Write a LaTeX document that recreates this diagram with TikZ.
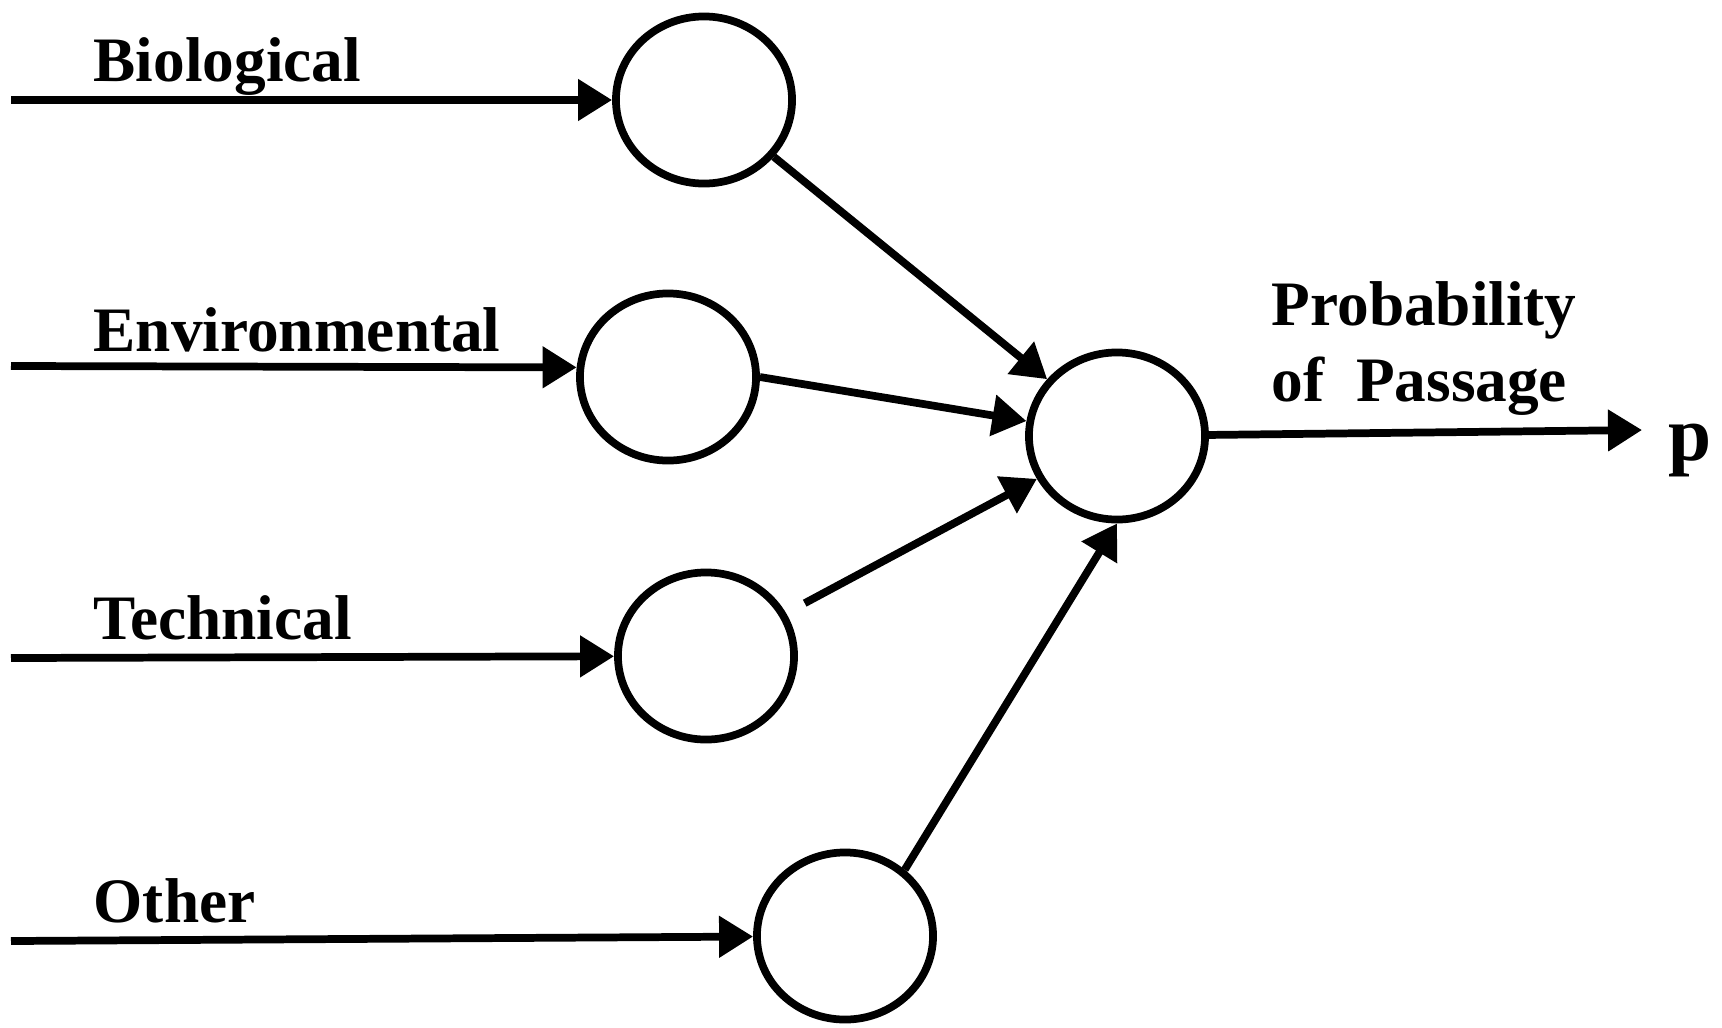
\documentclass[tikz,border=0pt]{standalone}
\usepackage{fontspec}
\setmainfont{Liberation Serif}
\usepackage{tikz}
\usetikzlibrary{shapes.geometric, arrows.meta, positioning}

\begin{document}
\begin{tikzpicture}[
    x=0.01cm, y=-0.01cm,
    unit/.style={ellipse, draw, line width=2.2pt, minimum width=1.76cm, minimum height=1.67cm, inner sep=0pt},
    arrow/.style={-{Triangle[length=0.34cm, width=0.40cm]}, line width=2.2pt},
    lbl/.style={anchor=base west, inner sep=0pt, font=\fontsize{18}{21.5}\selectfont\bfseries}
]
    \useasboundingbox (0,0) rectangle (1722,1027);

    % hidden units
    \node[unit] (bio) at (704,100) {};
    \node[unit] (env) at (668,377) {};
    \node[unit] (tech) at (706,656) {};
    \node[unit] (other) at (845,936) {};
    \node[unit] (prob) at (1117,436) {};

    % inputs
    \coordinate (inBio) at (11,100);
    \coordinate (inEnv) at (11,366);
    \coordinate (inTech) at (11,658);
    \coordinate (inOther) at (11,941);
    \coordinate (out) at (1642,430);

    \node[lbl] (lblBio) at (93,81) {Biological};
    \node[lbl] (lblEnv) at (93,351) {Environmental};
    \node[lbl] (lblTech) at (93,639) {Technical};
    \node[lbl] (lblOther) at (93,922) {Other};
    \node[lbl, align=left] (lblProb) at (1271,401) {Probability\\of\ \ Passage};
    \node[lbl, font=\fontsize{22}{26}\selectfont\bfseries] (lblP) at (1668,460) {p};

    \draw[arrow] (inBio) -- (bio);
    \draw[arrow] (inEnv) -- (env.174);
    \draw[arrow] (inTech) -- (tech);
    \draw[arrow] (inOther) -- (other);

    \draw[arrow] (bio) -- (prob);
    \draw[arrow] (env.east) -- (prob);
    \draw[arrow, shorten <=6pt] (tech) -- (prob);
    \draw[arrow] (other.48) -- (prob.south);
    \draw[arrow] (prob) -- (out);
\end{tikzpicture}
\end{document}
